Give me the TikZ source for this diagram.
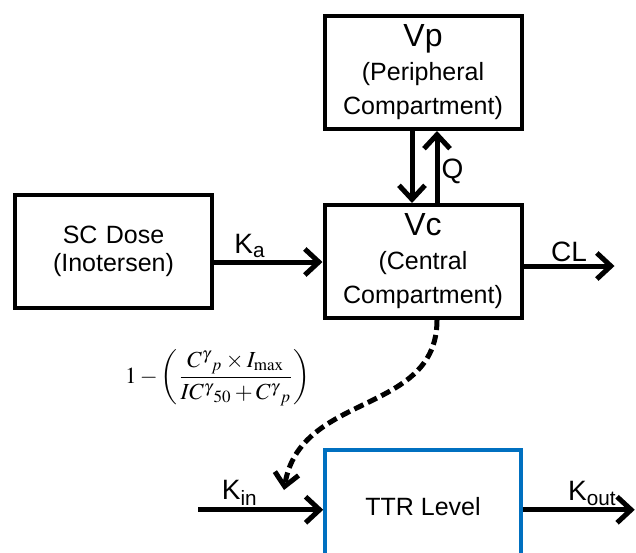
\documentclass[tikz,border=0pt]{standalone}
\usepackage{amsmath}
\usepackage{mathptmx}
\usepackage[no-math]{fontspec}
\setmainfont{Liberation Sans}
\usepackage{xcolor}
\usetikzlibrary{arrows.meta, positioning, calc}
\definecolor{ttrblue}{RGB}{0,112,192}

\begin{document}
\begin{tikzpicture}[
    x=1pt, y=-1pt,
    box/.style={
      rectangle, draw=black, line width=4pt,
      minimum width=197pt, minimum height=113pt,
      align=center, font=\fontsize{25}{34}\selectfont
    },
    arr/.style={-{Straight Barb[length=14pt, width=26pt]}, line width=5pt},
    dasharr/.style={-{Straight Barb[length=13pt, width=24pt]}, line width=5pt,
      dash pattern=on 10pt off 5pt},
    lbl/.style={font=\fontsize{28}{30}\selectfont, inner sep=2pt},
    node distance=72pt
  ]
  \useasboundingbox (0,0) rectangle (636,552);
  \clip (0,0) rectangle (636,552);

  \node[box] (vp) at (423,72.5)
        {{\fontsize{32}{36}\selectfont Vp}\\(Peripheral\\Compartment)};
  \node[box, below=of vp] (vc)
        {{\fontsize{32}{36}\selectfont Vc}\\(Central\\Compartment)};
  \node[box] (sc) at (113.5,251) {SC\,\,Dose\\[-6pt](Inotersen)};
  \node[box, draw=ttrblue, line width=3.5pt, minimum width=196pt,
        minimum height=114pt, below=128pt of vc] (ttr) {TTR Level};

  % flows between the compartments
  \draw[arr] ([xshift=-11pt]vp.south) -- ([xshift=-11pt]vc.north);
  \draw[arr] ([xshift=14pt]vc.north) -- node[lbl, right, yshift=-4pt] {Q} ([xshift=14pt]vp.south);

  \coordinate (ka) at ([yshift=-11pt]sc.east);
  \draw[arr] (ka) -- node[lbl, above, pos=0.33] {K\textsubscript{a}} (ka -| vc.west);

  \coordinate (clout) at ([xshift=91pt, yshift=-4.5pt]vc.east);
  \draw[arr] ([yshift=-4.5pt]vc.east) -- node[lbl, above] {CL} (clout);

  % drug effect on TTR input
  \coordinate (dend) at (284,490);
  \draw[dasharr] ([xshift=14pt]vc.south) .. controls +(0,95) and +(16,-98) .. (dend);

  \node[scale=2.3, transform shape, font=\fontsize{10}{12}\selectfont] (inh) at (218,378)
        {$1-\left(\dfrac{C^{\gamma}{}_{p}\times I_{\max}}{IC^{\gamma}{}_{50}+C^{\gamma}{}_{p}}\right)$};

  \coordinate (kin) at ([xshift=-125pt, yshift=-3pt]ttr.west);
  \draw[arr] (kin) -- node[lbl, above, pos=0.33] {K\textsubscript{in}} (kin -| ttr.west);

  \coordinate (kout) at ([xshift=112pt, yshift=-3pt]ttr.east);
  \draw[arr] ([yshift=-3pt]ttr.east) -- node[lbl, above, pos=0.62] {K\textsubscript{out}} (kout);

\end{tikzpicture}
\end{document}
